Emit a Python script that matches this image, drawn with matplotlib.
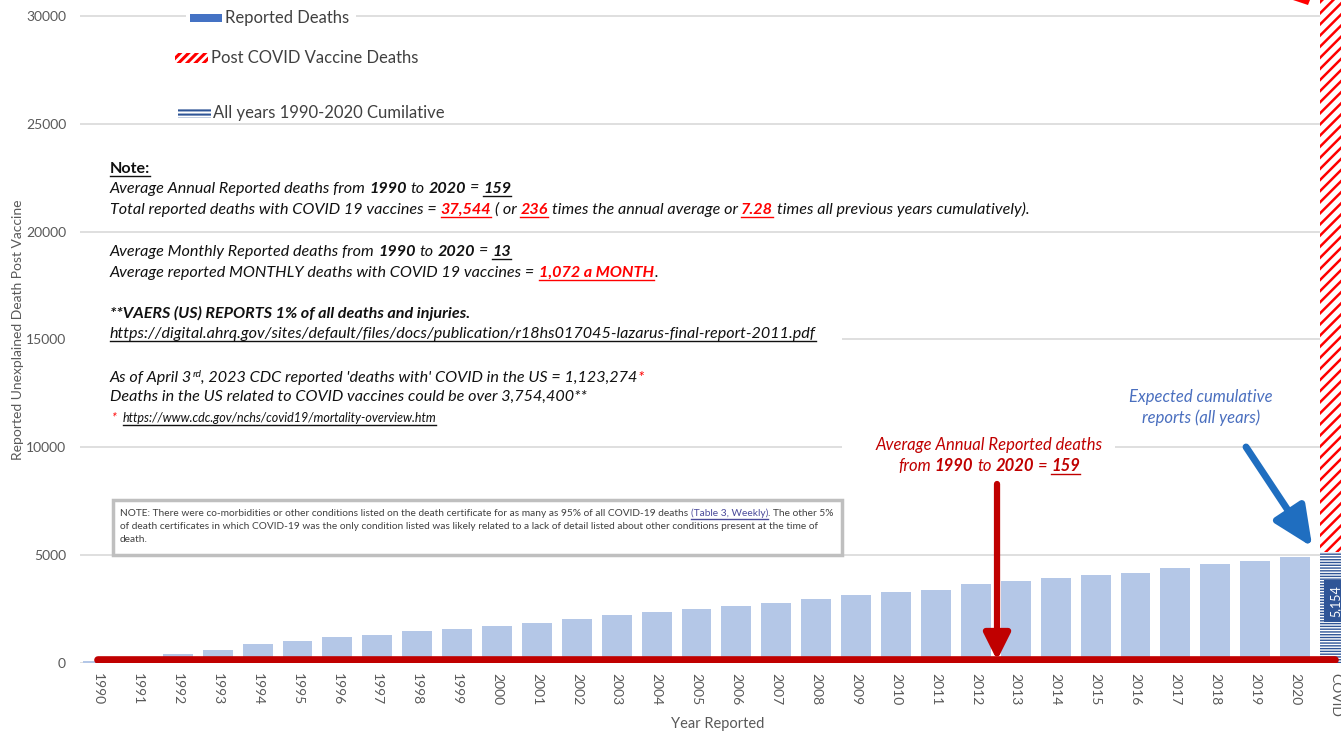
import matplotlib
matplotlib.use("Agg")
import matplotlib.pyplot as plt
from matplotlib.patches import Rectangle, Polygon
from matplotlib.lines import Line2D
from matplotlib.font_manager import FontProperties

plt.rcParams['font.family'] = ['Lato', 'DejaVu Sans']
plt.rcParams['hatch.linewidth'] = 1.8

# ---- data ----
years = [str(y) for y in range(1990, 2021)]
categories = years + ['COVID']
cumulative = [100, 250, 400, 590, 865, 1035, 1190, 1300, 1500, 1575,
              1730, 1870, 2055, 2210, 2380, 2520, 2660, 2800, 2950, 3150,
              3290, 3400, 3660, 3790, 3960, 4080, 4190, 4400, 4590, 4730, 4930]
avg_annual = 159
covid_cumulative = 5154
covid_total = 37544

W, H = 1341, 731
FONT = ['Lato', 'DejaVu Sans']
fig = plt.figure(figsize=(W / 100, H / 100), dpi=100)
ax = fig.add_axes([80 / W, 68 / H, (W - 80) / W, 663 / H])


def hatch_lw(artists, lw):
    for a in artists:
        if hasattr(a, 'set_hatch_linewidth'):
            a.set_hatch_linewidth(lw)


n = len(years)
ax.bar(range(n), cumulative, width=0.75, color='#B4C7E7', zorder=2)
with plt.rc_context({'hatch.linewidth': 1.0}):
    blue = ax.bar(n, covid_cumulative, width=0.75, color='white', edgecolor='#2F5597',
                  hatch='------', lw=0, zorder=2)
hatch_lw(blue, 1.0)
red = ax.bar(n, covid_total - covid_cumulative, bottom=covid_cumulative, width=0.75,
             color='white', edgecolor='#FF0000', hatch='///', lw=0, zorder=2)
hatch_lw(red, 1.8)
ax.plot(range(n + 1), [avg_annual] * (n + 1), color='#C00000', lw=5.5,
        solid_capstyle='round', zorder=3)
ax.text(n, 2875, f'{covid_cumulative:,}', rotation=90, ha='center', va='center',
        color='white', fontsize=9, zorder=4,
        bbox=dict(boxstyle='square,pad=0.4', fc='#2F5597', ec='none'))

# arrows
ax.annotate('', xy=(22.53, 130), xytext=(22.53, 8300),
            arrowprops=dict(arrowstyle='-|>,head_length=0.8,head_width=0.4',
                            color='#C00000', lw=4.5, mutation_scale=20,
                            shrinkA=0, shrinkB=0), zorder=5)
ax.annotate('', xy=(30.43, 5380), xytext=(28.77, 10015),
            arrowprops=dict(arrowstyle='-|>,head_length=1.1,head_width=0.5',
                            color='#1F6EC0', lw=5, mutation_scale=22,
                            shrinkA=0, shrinkB=0), zorder=5)

ax.set_xlim(-0.45, 31.15)
ax.set_ylim(0, 30740)
ax.set_yticks(range(0, 30001, 5000))
ax.set_xticks(range(n + 1))
ax.set_xticklabels(categories)
ax.yaxis.grid(True, color='#D9D9D9', lw=1.2)
ax.set_axisbelow(True)
for s in ax.spines.values():
    s.set_visible(False)
ax.tick_params(axis='y', length=0, labelsize=10, labelcolor='#595959', pad=10)
ax.tick_params(axis='x', length=0, labelsize=10, labelcolor='#595959', pad=7,
               labelrotation=-90)

fig.text(18 / W, 1 - 330 / H, 'Reported Unexplained Death Post Vaccine',
         rotation=90, ha='center', va='center', fontsize=10, color='#595959')
fig.text(718 / W, 1 - 724 / H, 'Year Reported', ha='center', va='center',
         fontsize=10.5, color='#595959')

renderer = fig.canvas.get_renderer()


def rect(x0, y0, x1, y1, **kw):
    p = Rectangle((x0 / W, 1 - y1 / H), (x1 - x0) / W, (y1 - y0) / H,
                  transform=fig.transFigure, figure=fig, **kw)
    fig.patches.append(p)
    return p


def ink(s, fp):
    return renderer.get_text_width_height_descent(s, fp, ismath=False)[0]


def adv(s, fp):
    # advance-like width: ink of s+'|' minus ink of '|'
    return ink(s + '|', fp) - ink('|', fp)


def fprops(o, size, style):
    return FontProperties(family=FONT, size=o.get('s', size),
                          style=o.get('st', style),
                          weight='bold' if o.get('b') else 'normal')


def rich(x, y, parts, size=11.6, style='italic', color='#111111', align='left'):
    parts = [(p, {}) if isinstance(p, str) else p for p in parts]
    if align == 'center':
        total = 0
        for s, o in parts:
            fp = fprops(o, size, style)
            sp = ink('n n', fp) - ink('nn', fp)
            total += adv(s.strip(' '), fp) + (len(s) - len(s.strip(' '))) * sp
        x = x - total / 2
    for s, o in parts:
        fp = fprops(o, size, style)
        sp = ink('n n', fp) - ink('nn', fp)
        lead = len(s) - len(s.lstrip(' '))
        trail = len(s) - len(s.rstrip(' '))
        core = s.strip(' ')
        x += lead * sp
        c = o.get('c', color)
        yy = y + o.get('dy', 0)
        fig.text(x / W, 1 - yy / H, core, fontproperties=fp, color=c, va='baseline')
        w = ink(core, fp)
        if o.get('u'):
            fig.add_artist(Line2D([x / W, (x + w) / W], [1 - (y + 2.5) / H] * 2,
                                  color=c, lw=1, transform=fig.transFigure))
        x += adv(core, fp) + trail * sp


# white areas behind text blocks (hide gridlines like the original)
rect(186, 8, 356, 26, fc='white', ec='none')
rect(80, 296, 842, 432, fc='white', ec='none')
rect(842, 430, 1115, 480, fc='white', ec='none')

# legend
rect(190, 14, 222, 22, fc='#4472C4', ec='none')
hatch_lw([rect(175, 53, 208, 63, fc='white', ec='#FF0000', hatch='////', lw=0)], 2.2)
with plt.rc_context({'hatch.linewidth': 1.5}):
    leg3 = rect(178, 108, 211, 118, fc='white', ec='#2F5597', hatch='----', lw=0)
hatch_lw([leg3], 1.5)
fig.text(225 / W, 1 - 18 / H, 'Reported Deaths', fontsize=12, color='#404040', va='center')
fig.text(211 / W, 1 - 58 / H, 'Post COVID Vaccine Deaths', fontsize=12, color='#404040', va='center')
fig.text(213 / W, 1 - 113 / H, 'All years 1990-2020 Cumilative', fontsize=12, color='#404040', va='center')
fig.patches.append(Polygon([(1293 / W, 1.0), (1310 / W, 1.0), (1308 / W, 1 - 5 / H)],
                           closed=True, fc='#FF0000', ec='none',
                           transform=fig.transFigure, figure=fig))

RED = '#FF0000'
B = {'b': True}
rich(110, 173, [('Note:', {'b': True, 'u': True, 'st': 'normal'})])
rich(110, 193, ['Average Annual Reported deaths from ', ('1990', B), ' to ', ('2020', B),
                ' = ', ('159', {'b': True, 'u': True})])
rich(110, 214, ['Total reported deaths with COVID 19 vaccines = ',
                ('37,544', {'b': True, 'u': True, 'c': RED}), ' ( or ',
                ('236', {'b': True, 'u': True, 'c': RED}),
                ' times the annual average or ',
                ('7.28', {'b': True, 'u': True, 'c': RED}),
                ' times all previous years cumulatively).'])
rich(110, 256, ['Average Monthly Reported deaths from ', ('1990', B), ' to ', ('2020', B),
                ' = ', ('13', {'b': True, 'u': True})])
rich(110, 277, ['Average reported MONTHLY deaths with COVID 19 vaccines = ',
                ('1,072 a MONTH', {'b': True, 'u': True, 'c': RED}), '.'])
rich(110, 318, [('**VAERS (US) REPORTS 1% of all deaths and injuries.', B)])
rich(110, 338, [('https://digital.ahrq.gov/sites/default/files/docs/publication/'
                 'r18hs017045-lazarus-final-report-2011.pdf', {'u': True})])
rich(110, 382, ['As of April 3', ('rd', {'s': 7.5, 'dy': -5}),
                ", 2023 CDC reported 'deaths with' COVID in the US = 1,123,274",
                ('*', {'c': RED})])
rich(110, 401, ['Deaths in the US related to COVID vaccines could be over 3,754,400**'])
rich(112, 422, [('*', {'c': RED}), ' ',
                ('https://www.cdc.gov/nchs/covid19/mortality-overview.htm', {'u': True})],
     size=9)

# red annotation
DR = '#C00000'
rich(989, 450, ['Average Annual Reported deaths'], size=12, color=DR, align='center')
rich(989, 471, ['from ', ('1990', B), ' to ', ('2020', B), ' = ',
                ('159', {'b': True, 'u': True})], size=12, color=DR, align='center')

# blue annotation
rich(1201, 402, ['Expected cumulative'], size=12, color='#4A6FBF', align='center')
rich(1201, 423, ['reports (all years)'], size=12, color='#4A6FBF', align='center')

# note box
rect(113, 500, 842, 555, fc='white', ec='#BFBFBF', lw=2.5)
rich(120, 516, ['NOTE: There were co-morbidities or other conditions listed on the death '
                'certificate for as many as 95% of all COVID-19 deaths ',
                ('(Table 3, Weekly)', {'u': True, 'c': '#4A4A9A'}), '. The other 5%'],
     size=7.3, style='normal', color='#404040')
rich(120, 529, ['of death certificates in which COVID-19 was the only condition listed was '
                'likely related to a lack of detail listed about other conditions present '
                'at the time of'], size=7.3, style='normal', color='#404040')
rich(120, 542, ['death.'], size=7.3, style='normal', color='#404040')

fig.savefig('out.png', dpi=100)
